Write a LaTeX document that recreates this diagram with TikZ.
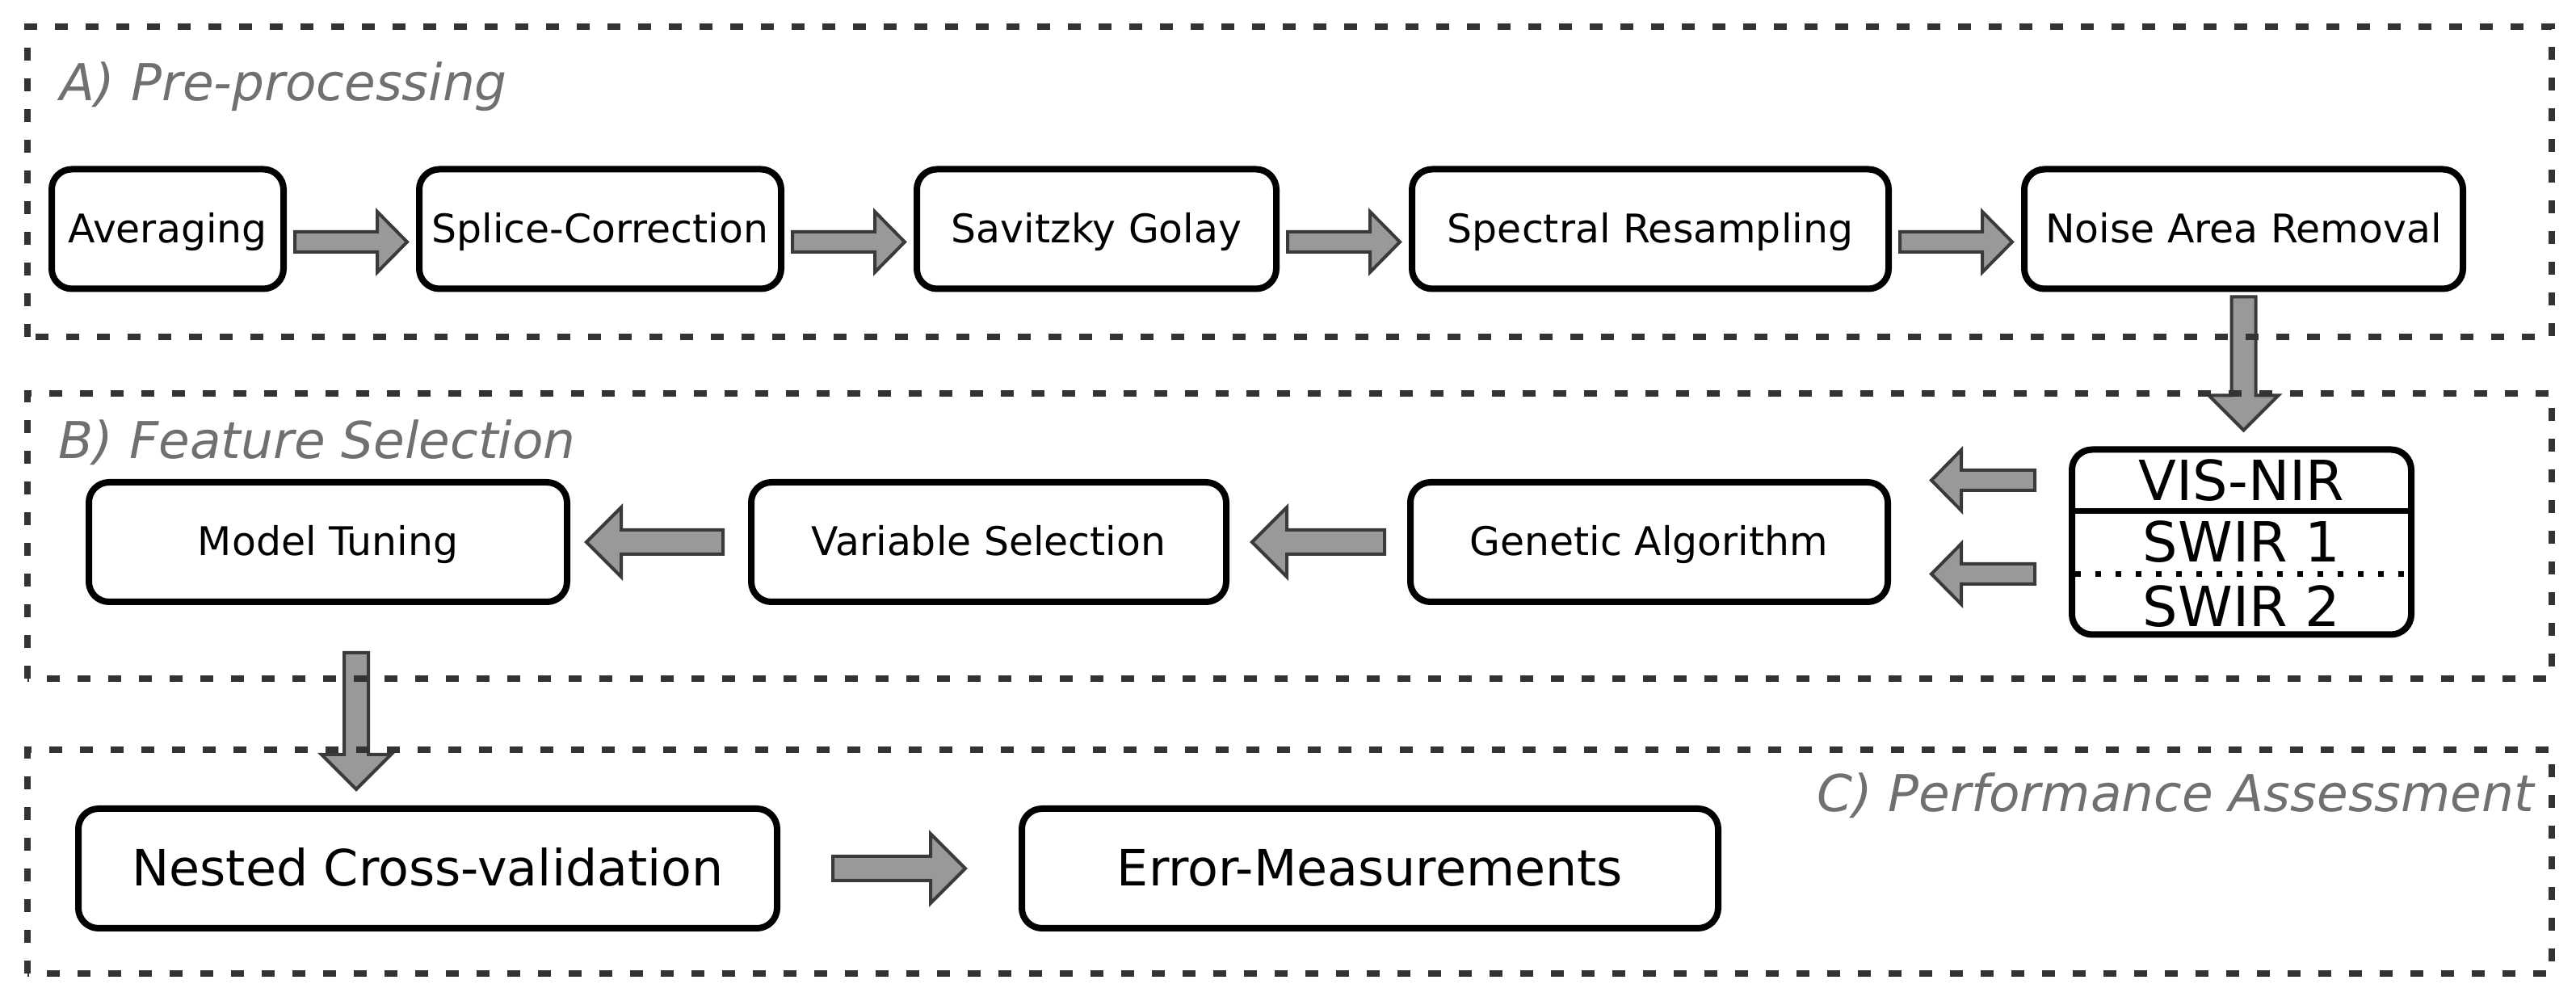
\documentclass[tikz,border=0pt]{standalone}
\usepackage{fontspec}
\setmainfont{DejaVu Sans}
\usetikzlibrary{positioning, calc}

\definecolor{framegray}{HTML}{333333}
\definecolor{titlegray}{HTML}{707070}
\definecolor{arrowfill}{HTML}{999999}
\definecolor{arrowline}{HTML}{3A3A3A}

\begin{document}
\begin{tikzpicture}[
            node distance = 1.6cm, % gap between boxes of a row
            font = \fontsize{13.9}{16}\selectfont, % box text
            fat shaft/.initial = 0.3cm, % block arrow sizes
            fat head/.initial = 0.86cm,
            fat tip/.initial = 0.43cm,
            small/.style = {fat shaft = 0.25cm, fat head = 0.75cm, fat tip = 0.37cm},
            big text/.style = {font = \fontsize{17.6}{20}\selectfont, text height = 0.45cm}
        ]

        \useasboundingbox (0,0) rectangle (31.89,12.44);

        \tikzstyle{stage}=[
            draw = black,
            line width = 0.08cm,
            rounded corners = 0.25cm,
            fill = white,
            minimum height = 1.48cm,
            text height = 0.36cm, % same baseline in every box
            text depth = 0.02cm,
            inner sep = 0pt
        ]
        \tikzstyle{band}=[
            inner sep = 0pt,
            font = \fontsize{19.5}{21}\selectfont
        ]
        \tikzstyle{group}=[
            draw = framegray,
            line width = 0.08cm,
            dash pattern = on 0.16cm off 0.22cm
        ]
        \tikzstyle{title}=[
            text = titlegray,
            font = \fontsize{17.9}{20}\selectfont\itshape,
            inner sep = 0pt
        ]
        \tikzstyle{fat arrow}=[
            draw = arrowline,
            fill = arrowfill,
            line width = 0.04cm,
            line join = miter,
            to path = {let \p1 = (\tikztostart), \p2 = (\tikztotarget),
                \n1 = {atan2(\y2-\y1,\x2-\x1)},
                \n2 = {veclen(\x2-\x1,\y2-\y1)},
                \n3 = {\pgfkeysvalueof{/tikz/fat shaft}/2},
                \n4 = {\pgfkeysvalueof{/tikz/fat head}/2},
                \n5 = {\n2-\pgfkeysvalueof{/tikz/fat tip}} in
                {[shift = {(\p1)}, rotate = \n1]
                (0pt,-\n3) -- (\n5,-\n3) -- (\n5,-\n4) -- (\n2,0pt)
                -- (\n5,\n4) -- (\n5,\n3) -- (0pt,\n3) -- cycle}}
        ]

        % A) pre-processing
        \node[stage, minimum width = 2.87cm] (avg) at (2.075,9.605) {Averaging};
        \node[stage, minimum width = 4.48cm, right = of avg] (spl) {Splice-Correction};
        \node[stage, minimum width = 4.45cm, right = of spl] (sav) {Savitzky Golay};
        \node[stage, minimum width = 5.9cm, right = of sav] (spe) {Spectral Resampling};
        \node[stage, minimum width = 5.43cm, right = of spe] (noi) {Noise Area Removal};

        % B) feature selection
        \node[stage, minimum width = 5.92cm] (tun) at (4.06,5.73) {Model Tuning};
        \node[stage, minimum width = 5.88cm, right = 2.2cm of tun] (var) {Variable Selection};
        \node[stage, minimum width = 5.91cm, right = 2.2cm of var] (gen) {Genetic Algorithm};
        \node[stage, minimum width = 4.2cm, minimum height = 2.29cm, right = 2.2cm of gen] (bands) {};

        \node[band] (vis) at ($(bands.center)+(0,0.765)$) {VIS-NIR};
        \node[band] (swa) at (bands.center) {SWIR 1};
        \node[band] (swb) at ($(bands.center)+(0,-0.795)$) {SWIR 2};
        \coordinate (cut) at ($(bands.center)+(0,-0.395)$);

        \draw[line width = 0.07cm] ($(bands.west)+(0.06,0.385)$) -- ($(bands.east)+(-0.06,0.385)$);
        \draw[line width = 0.07cm, dash pattern = on 0.07cm off 0.18cm]
            ($(bands.west |- cut)+(0.08,0)$) -- ($(bands.east |- cut)+(-0.08,0)$);

        % C) performance assessment
        \node[stage, big text, minimum width = 8.65cm] (nest) at (5.295,1.69) {Nested Cross-validation};
        \node[stage, big text, minimum width = 8.62cm, right = 2.95cm of nest] (err) {Error-Measurements};

        \node[title, anchor = base west] (ta) at (0.74,11.19) {A) Pre-processing};
        \node[title, anchor = base west] (tb) at (0.72,6.76) {B) Feature Selection};
        \node[title, anchor = base east] (tc) at (31.38,2.39) {C) Performance Assessment};

        % arrows
        \foreach \a/\b in {avg/spl, spl/sav, sav/spe, spe/noi}
            \draw[fat arrow, small] ([xshift = 0.1cm, yshift = -0.16cm]\a.east) to ([xshift = -0.11cm, yshift = -0.16cm]\b.west);

        \draw[fat arrow] ($(noi.south)+(0,-0.06)$) to ($(noi.south |- bands.north)+(0,0.2)$);
        \draw[fat arrow, small] ($(bands.west |- vis)+(-0.42,0)$) to ($(gen.east |- vis)+(0.5,0)$);
        \draw[fat arrow, small] ($(bands.west |- cut)+(-0.42,0)$) to ($(gen.east |- cut)+(0.5,0)$);
        \draw[fat arrow] ([xshift = -0.28cm]gen.west) to ([xshift = 0.28cm]var.east);
        \draw[fat arrow] ([xshift = -0.31cm]var.west) to ([xshift = 0.2cm]tun.east);
        \draw[fat arrow] ($(tun.south)+(0.35,-0.59)$) to ($(tun.south |- nest.north)+(0.35,0.2)$);
        \draw[fat arrow] ([xshift = 0.65cm]nest.east) to ([xshift = -0.66cm]err.west);

        % dashed frames on top
        \draw[group] (0.34,8.27) rectangle (31.59,12.11);
        \draw[group] (0.34,4.04) rectangle (31.59,7.57);
        \draw[group] (0.34,0.39) rectangle (31.59,3.16);

    \end{tikzpicture}
\end{document}
